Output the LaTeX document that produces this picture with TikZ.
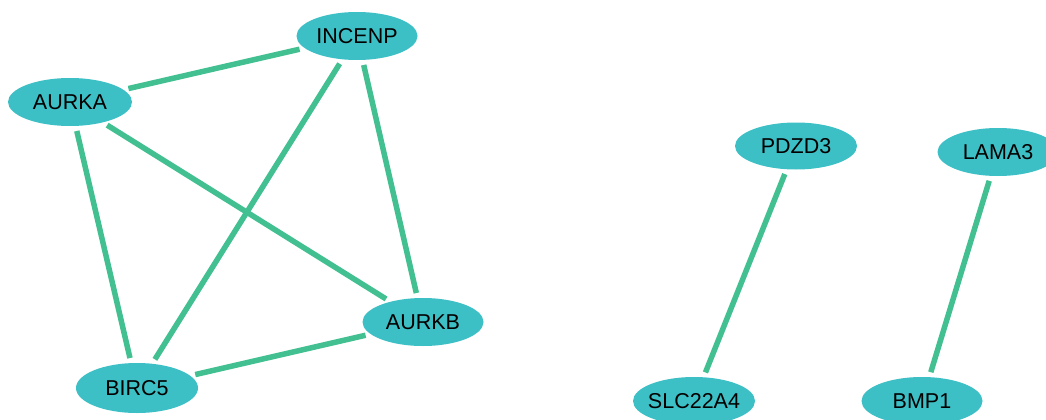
\documentclass[tikz,border=0pt]{standalone}
\usepackage{fontspec}
\setmainfont{Liberation Sans}
\usetikzlibrary{shapes.geometric}
\definecolor{nodefill}{HTML}{3CBFC5}
\definecolor{edgecol}{HTML}{42C092}
\tikzset{
  gene/.style={ellipse, fill=nodefill, draw=none, minimum width=121pt, minimum height=48pt, inner xsep=-4pt, inner ysep=0pt, font=\fontsize{21.5}{25}\selectfont, text=black},
  link/.style={draw=edgecol, line width=5.5pt, shorten <=5pt, shorten >=5pt}
}
\begin{document}
\begin{tikzpicture}[x=1pt,y=-1pt]
\useasboundingbox (0,0) rectangle (1046,420);
\node[gene] (incenp) at (357,36) {INCENP};
\node[gene, minimum width=124pt] (aurka) at (70,102) {AURKA};
\node[gene] (aurkb) at (423,322) {AURKB};
\node[gene, minimum width=122pt, minimum height=50pt] (birc5) at (137,388) {BIRC5};
\node[gene, minimum width=122pt, minimum height=47pt] (pdzd3) at (796,146) {PDZD3};
\node[gene] (lama3) at (998,152) {LAMA3};
\node[gene, minimum width=122pt] (slc) at (694,401) {SLC22A4};
\node[gene] (bmp1) at (922,401) {BMP1};
\path[link] (aurka) -- (incenp);
\path[link] (aurka) -- (aurkb);
\path[link] (aurka) -- (birc5);
\path[link] (incenp) -- (birc5);
\path[link] (incenp) -- (aurkb);
\path[link] (birc5) -- (aurkb);
\path[link] (pdzd3) -- (slc);
\path[link] (lama3) -- (bmp1);
\end{tikzpicture}
\end{document}
